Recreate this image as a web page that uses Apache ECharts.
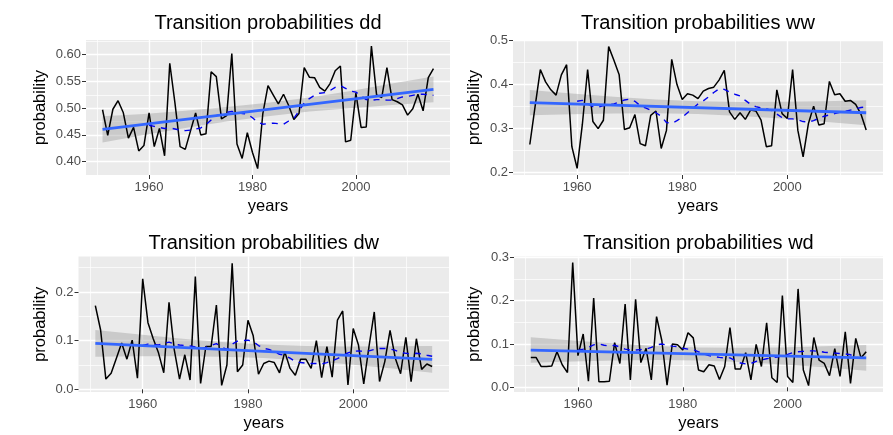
<!DOCTYPE html>
<html>
<head>
<meta charset="utf-8">
<script src="https://cdn.jsdelivr.net/npm/echarts@6/dist/echarts.min.js"></script>
<style>
html, body { margin: 0; padding: 0; background: #fff; }
#main { width: 893px; height: 435px; }
</style>
</head>
<body>
<div id="main"></div>
<script>
// years 1951..2015, moving mean shown from 1960
const years = [];
for (let y = 1951; y <= 2015; y++) years.push(y);
const avgYears = years.filter((y) => y >= 1960);
const bandYears = [1951, 1959, 1967, 1975, 1983, 1991, 1999, 2007, 2015];
const fitYears = [1951, 2015];

// yearly values
const ddValues = [0.497, 0.449, 0.498, 0.514, 0.492, 0.444, 0.464, 0.420, 0.430, 0.491,
  0.428, 0.462, 0.411, 0.584, 0.510, 0.428, 0.423, 0.457, 0.491, 0.450,
  0.452, 0.568, 0.559, 0.480, 0.486, 0.602, 0.433, 0.406, 0.454, 0.417,
  0.387, 0.490, 0.542, 0.525, 0.508, 0.526, 0.505, 0.479, 0.490, 0.576,
  0.558, 0.557, 0.539, 0.532, 0.546, 0.570, 0.579, 0.437, 0.440, 0.528,
  0.464, 0.465, 0.616, 0.525, 0.520, 0.576, 0.516, 0.512, 0.506, 0.487,
  0.499, 0.526, 0.495, 0.557, 0.574];
const wwValues = [0.264, 0.350, 0.434, 0.406, 0.388, 0.376, 0.422, 0.445, 0.259, 0.210,
  0.310, 0.434, 0.316, 0.300, 0.319, 0.486, 0.455, 0.422, 0.298, 0.302,
  0.332, 0.266, 0.261, 0.330, 0.340, 0.255, 0.296, 0.457, 0.400, 0.366,
  0.379, 0.376, 0.368, 0.385, 0.391, 0.394, 0.410, 0.432, 0.338, 0.321,
  0.336, 0.321, 0.342, 0.340, 0.319, 0.259, 0.261, 0.388, 0.334, 0.323,
  0.434, 0.296, 0.236, 0.311, 0.351, 0.308, 0.311, 0.407, 0.377, 0.379,
  0.362, 0.364, 0.355, 0.333, 0.297];
const dwValues = [0.172, 0.122, 0.021, 0.033, 0.064, 0.095, 0.062, 0.101, 0.023, 0.227,
  0.137, 0.104, 0.075, 0.034, 0.179, 0.081, 0.021, 0.071, 0.019, 0.232,
  0.012, 0.088, 0.088, 0.173, 0.008, 0.050, 0.259, 0.036, 0.050, 0.142,
  0.110, 0.031, 0.053, 0.058, 0.055, 0.034, 0.077, 0.043, 0.029, 0.062,
  0.062, 0.043, 0.100, 0.024, 0.088, 0.025, 0.142, 0.161, 0.009, 0.125,
  0.091, 0.011, 0.088, 0.159, 0.016, 0.057, 0.121, 0.064, 0.032, 0.107,
  0.016, 0.104, 0.041, 0.052, 0.047];
const wdValues = [0.069, 0.069, 0.048, 0.048, 0.049, 0.082, 0.052, 0.034, 0.288, 0.073,
  0.123, 0.014, 0.206, 0.013, 0.013, 0.014, 0.103, 0.055, 0.192, 0.017,
  0.203, 0.057, 0.090, 0.017, 0.163, 0.108, 0.005, 0.100, 0.098, 0.086,
  0.126, 0.114, 0.040, 0.036, 0.052, 0.049, 0.018, 0.048, 0.138, 0.042,
  0.042, 0.080, 0.017, 0.099, 0.048, 0.149, 0.022, 0.011, 0.212, 0.025,
  0.011, 0.227, 0.040, 0.004, 0.115, 0.063, 0.055, 0.027, 0.089, 0.025,
  0.128, 0.009, 0.113, 0.068, 0.082];

// dashed moving mean (1960..2015)
const ddAvg = [0.468, 0.466, 0.464, 0.462, 0.463, 0.461, 0.459, 0.458, 0.459, 0.461,
  0.463, 0.469, 0.478, 0.486, 0.489, 0.492, 0.494, 0.492, 0.490, 0.489,
  0.482, 0.474, 0.470, 0.471, 0.472, 0.471, 0.470, 0.476, 0.481, 0.495,
  0.510, 0.518, 0.524, 0.528, 0.529, 0.533, 0.539, 0.542, 0.537, 0.532,
  0.530, 0.523, 0.516, 0.515, 0.516, 0.516, 0.515, 0.515, 0.518, 0.521,
  0.522, 0.524, 0.526, 0.526, 0.525, 0.524];
const wwAvg = [0.362, 0.364, 0.356, 0.350, 0.349, 0.352, 0.354, 0.356, 0.360, 0.365,
  0.367, 0.362, 0.352, 0.347, 0.342, 0.336, 0.328, 0.314, 0.312, 0.318,
  0.326, 0.336, 0.346, 0.356, 0.363, 0.372, 0.382, 0.390, 0.389, 0.383,
  0.378, 0.374, 0.364, 0.355, 0.350, 0.347, 0.345, 0.341, 0.333, 0.325,
  0.322, 0.322, 0.320, 0.316, 0.315, 0.318, 0.324, 0.328, 0.331, 0.334,
  0.337, 0.339, 0.342, 0.345, 0.348, 0.349];
const dwAvg = [0.090, 0.093, 0.092, 0.091, 0.094, 0.097, 0.093, 0.091, 0.090, 0.089,
  0.087, 0.084, 0.086, 0.090, 0.094, 0.087, 0.082, 0.093, 0.099, 0.100,
  0.101, 0.098, 0.090, 0.084, 0.082, 0.078, 0.072, 0.070, 0.064, 0.057,
  0.055, 0.054, 0.053, 0.053, 0.052, 0.055, 0.059, 0.063, 0.069, 0.075,
  0.078, 0.079, 0.078, 0.079, 0.082, 0.084, 0.084, 0.083, 0.080, 0.076,
  0.074, 0.073, 0.074, 0.073, 0.070, 0.068];
const wdAvg = [0.085, 0.088, 0.092, 0.098, 0.100, 0.097, 0.095, 0.097, 0.093, 0.088,
  0.086, 0.086, 0.087, 0.088, 0.092, 0.098, 0.100, 0.097, 0.095, 0.094,
  0.090, 0.088, 0.087, 0.082, 0.077, 0.073, 0.071, 0.069, 0.068, 0.068,
  0.062, 0.056, 0.054, 0.055, 0.060, 0.063, 0.066, 0.068, 0.070, 0.073,
  0.076, 0.080, 0.082, 0.083, 0.084, 0.084, 0.083, 0.081, 0.080, 0.079,
  0.078, 0.077, 0.075, 0.070, 0.067, 0.067];

// linear fit (ends) and its confidence band at bandYears
const ddFit = [0.4604, 0.535];
const ddUpper = [0.485, 0.489, 0.495, 0.502, 0.510, 0.520, 0.532, 0.546, 0.559];
const ddLower = [0.436, 0.450, 0.463, 0.475, 0.485, 0.494, 0.500, 0.506, 0.511];
const wwFit = [0.359, 0.336];
const wwUpper = [0.3875, 0.3795, 0.3723, 0.3661, 0.3619, 0.3603, 0.3608, 0.3623, 0.3645];
const wwLower = [0.3305, 0.3327, 0.3343, 0.3347, 0.3331, 0.3289, 0.3228, 0.3155, 0.3075];
const dwFit = [0.0945, 0.0616];
const dwUpper = [0.122, 0.113, 0.1046, 0.0973, 0.092, 0.089, 0.0881, 0.0883, 0.0891];
const dwLower = [0.067, 0.0678, 0.068, 0.0671, 0.0642, 0.0588, 0.0515, 0.0431, 0.0341];
const wdFit = [0.086, 0.068];
const wdUpper = [0.1155, 0.108, 0.1011, 0.0955, 0.0919, 0.0910, 0.0921, 0.0945, 0.0975];
const wdLower = [0.0565, 0.0596, 0.0619, 0.0631, 0.0621, 0.0586, 0.0529, 0.0461, 0.0385];

// tick labels (major) and minor grid lines
const xTicks = [1960, 1980, 2000];
const xMinor = [1950, 1970, 1990, 2010];
const ddTicks = [0.40, 0.45, 0.50, 0.55, 0.60];
const ddMinor = [0.425, 0.475, 0.525, 0.575, 0.625];
const wwTicks = [0.2, 0.3, 0.4, 0.5];
const wwMinor = [0.25, 0.35, 0.45];
const dwTicks = [0.0, 0.1, 0.2];
const dwMinor = [0.05, 0.15, 0.25];
const wdTicks = [0.0, 0.1, 0.2, 0.3];
const wdMinor = [0.05, 0.15, 0.25];

const panels = [
  { name: "dd", values: ddValues, avg: ddAvg, fit: ddFit, upper: ddUpper, lower: ddLower,
    ticks: ddTicks, minor: ddMinor, digits: 2, yMin: 0.375, yMax: 0.6275,
    left: 86, top: 40, width: 364, height: 135, nameGap: 37, titleTop: 13 },
  { name: "ww", values: wwValues, avg: wwAvg, fit: wwFit, upper: wwUpper, lower: wwLower,
    ticks: wwTicks, minor: wwMinor, digits: 1, yMin: 0.1948, yMax: 0.501,
    left: 513, top: 40, width: 370, height: 135, nameGap: 30, titleTop: 13 },
  { name: "dw", values: dwValues, avg: dwAvg, fit: dwFit, upper: dwUpper, lower: dwLower,
    ticks: dwTicks, minor: dwMinor, digits: 1, yMin: -0.0055, yMax: 0.273,
    left: 78.5, top: 256.5, width: 370.5, height: 135.5, nameGap: 30, titleTop: 233 },
  { name: "wd", values: wdValues, avg: wdAvg, fit: wdFit, upper: wdUpper, lower: wdLower,
    ticks: wdTicks, minor: wdMinor, digits: 1, yMin: -0.0108, yMax: 0.3018,
    left: 514, top: 256.5, width: 369, height: 135.5, nameGap: 31, titleTop: 233 },
];

const FONT = "Liberation Sans";
const pts = (xs, ys) => xs.map((x, k) => [x, ys[k]]);

let option = {
  animation: false,
  textStyle: { fontFamily: FONT },
  title: [],
  grid: [],
  xAxis: [],
  yAxis: [],
  series: [],
};

panels.forEach((p, i) => {
  option.title.push({
    text: "Transition probabilities " + p.name,
    left: p.left + p.width / 2,
    top: p.titleTop,
    textAlign: "center",
    padding: 0,
    textStyle: { fontSize: 20, fontWeight: "normal", color: "#000", fontFamily: FONT },
  });
  option.grid.push({
    left: p.left, top: p.top, width: p.width, height: p.height,
    show: true, backgroundColor: "#EBEBEB", borderWidth: 0,
    containLabel: false, outerBoundsMode: "none",
  });

  // minor grid axes
  option.xAxis.push({
    gridIndex: i, type: "value", min: 1947.8, max: 2018.2, position: "bottom",
    axisLine: { show: false },
    axisTick: { show: false, customValues: xMinor },
    axisLabel: { show: false, customValues: xMinor },
    splitLine: { show: true, lineStyle: { color: "#fff", width: 0.7 } },
  });
  // major axes with labels
  option.xAxis.push({
    gridIndex: i, type: "value", min: 1947.8, max: 2018.2, position: "bottom",
    name: "years", nameLocation: "middle", nameGap: 23, nameMoveOverlap: false,
    nameTextStyle: { fontSize: 16.5, color: "#000", fontFamily: FONT },
    axisLine: { show: false },
    axisTick: { show: true, length: 4, lineStyle: { color: "#333", width: 1 }, customValues: xTicks },
    axisLabel: {
      customValues: xTicks, color: "#4D4D4D", fontSize: 13, margin: 6, fontFamily: FONT,
      formatter: (v) => String(v),
    },
    splitLine: { show: true, lineStyle: { color: "#fff", width: 1.4 } },
  });
  option.yAxis.push({
    gridIndex: i, type: "value", min: p.yMin, max: p.yMax, position: "left",
    axisLine: { show: false },
    axisTick: { show: false, customValues: p.minor },
    axisLabel: { show: false, customValues: p.minor },
    splitLine: { show: true, lineStyle: { color: "#fff", width: 0.7 } },
  });
  option.yAxis.push({
    gridIndex: i, type: "value", min: p.yMin, max: p.yMax, position: "left",
    name: "probability", nameLocation: "middle", nameGap: p.nameGap, nameRotate: 90,
    nameMoveOverlap: false,
    nameTextStyle: { fontSize: 16.5, color: "#000", fontFamily: FONT },
    axisLine: { show: false },
    axisTick: { show: true, length: 4, lineStyle: { color: "#333", width: 1 }, customValues: p.ticks },
    axisLabel: {
      customValues: p.ticks, color: "#4D4D4D", fontSize: 13, margin: 5, fontFamily: FONT,
      formatter: (v) => Number(v).toFixed(p.digits),
    },
    splitLine: { show: true, lineStyle: { color: "#fff", width: 1.4 } },
  });

  const xi = 2 * i, yi = 2 * i;
  // confidence band as one polygon (upper edge forward, lower edge back)
  option.series.push({
    type: "custom", xAxisIndex: xi, yAxisIndex: yi, silent: true,
    data: pts(bandYears, p.lower),
    encode: { x: 0, y: 1 },
    renderItem: (params, api) => {
      if (params.dataIndex !== 0) return null;
      const top = bandYears.map((x, k) => api.coord([x, p.upper[k]]));
      const bottom = bandYears.map((x, k) => api.coord([x, p.lower[k]])).reverse();
      return {
        type: "polygon",
        shape: { points: top.concat(bottom) },
        style: { fill: "rgba(153,153,153,0.4)" },
      };
    },
  });
  // yearly values
  option.series.push({
    type: "line", xAxisIndex: xi, yAxisIndex: yi,
    data: pts(years, p.values), symbol: "none",
    lineStyle: { color: "#000", width: 1.5 },
  });
  // dashed moving mean
  option.series.push({
    type: "line", xAxisIndex: xi, yAxisIndex: yi,
    data: pts(avgYears, p.avg), symbol: "none",
    lineStyle: { color: "#0000EE", width: 1.4, type: [6, 6] },
  });
  // linear trend
  option.series.push({
    type: "line", xAxisIndex: xi, yAxisIndex: yi,
    data: pts(fitYears, p.fit), symbol: "none",
    lineStyle: { color: "#3366FF", width: 2.8 },
  });
});

let myChart = echarts.init(document.getElementById("main"), null, { renderer: "canvas" });
myChart.setOption(option);
</script>
</body>
</html>
